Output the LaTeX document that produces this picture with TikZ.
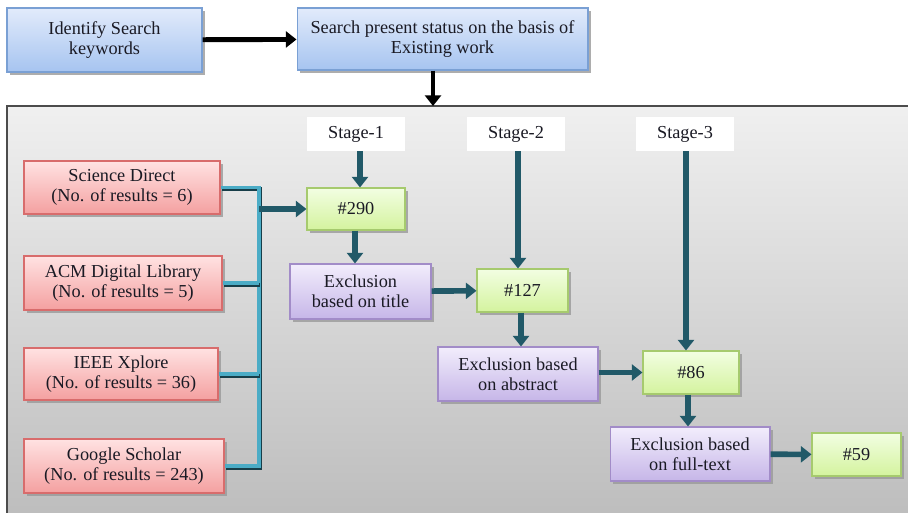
\documentclass[tikz,border=0pt]{standalone}
\usepackage{fontspec}
\setmainfont{Liberation Serif}
\usepackage{xcolor}
\usepackage{tikz}
\usetikzlibrary{arrows.meta, shadows, calc}
\definecolor{teal1}{HTML}{215968}
\definecolor{busc}{HTML}{4BACC6}
\definecolor{inkc}{HTML}{1A1A24}
\tikzstyle{base} = [rectangle, align=center, text=inkc, font=\fontsize{10.4}{11.6}\selectfont, inner sep=1pt, line width=0.6pt, drop shadow={shadow xshift=1.5pt, shadow yshift=-1.8pt, fill=black!40, opacity=0.8}]
\tikzstyle{bluebox} = [base, draw={rgb,255:red,122;green,160;blue,212}, top color={rgb,255:red,226;green,235;blue,251}, bottom color={rgb,255:red,166;green,196;blue,240}]
\tikzstyle{redbox} = [base, draw={rgb,255:red,216;green,108;blue,108}, top color={rgb,255:red,255;green,226;blue,226}, bottom color={rgb,255:red,244;green,160;blue,160}]
\tikzstyle{greenbox} = [base, draw={rgb,255:red,166;green,202;blue,110}, top color={rgb,255:red,242;green,254;blue,226}, bottom color={rgb,255:red,212;green,243;blue,158}]
\tikzstyle{purplebox} = [base, draw={rgb,255:red,162;green,140;blue,200}, top color={rgb,255:red,242;green,237;blue,252}, bottom color={rgb,255:red,198;green,182;blue,232}]
\tikzstyle{stagebox} = [rectangle, align=center, text=inkc, font=\fontsize{10.4}{11.6}\selectfont, fill=white]
\tikzstyle{arrow} = [line width=3.2pt, draw=teal1, -{Triangle[length=6pt, width=9pt]}]
\tikzstyle{blackarrow} = [line width=2.8pt, draw=black, -{Triangle[length=6pt, width=9pt]}]
\tikzstyle{bus} = [line width=2.2pt, draw=busc, preaction={draw=teal1!70!black, line width=2.2pt, transform canvas={xshift=0.7pt, yshift=-0.9pt}}]

\begin{document}
\begin{tikzpicture}[x=0.02cm, y=-0.02cm]
\useasboundingbox (0,0) rectangle (908,512);

% search steps
\node (key) [bluebox, minimum width=3.9cm, minimum height=1.28cm] at (104.5,40) {Identify Search\\keywords};
\node (status) [bluebox, minimum width=5.82cm, minimum height=1.24cm] at (442.5,39) {Search present status on the basis of\\Existing work};

% panel
\coordinate (paneltop) at (433,106);
\draw[draw=black!70, line width=1pt, top color=black!6, bottom color=black!26] (7,106) rectangle (915,520);

% stages
\node (s1) [stagebox, minimum width=1.96cm, minimum height=0.68cm] at (356,134) {Stage-1};
\node (s2) [stagebox, minimum width=1.96cm, minimum height=0.68cm] at (516,134) {Stage-2};
\node (s3) [stagebox, minimum width=1.96cm, minimum height=0.68cm] at (685,134) {Stage-3};

% libraries
\node (sd) [redbox, minimum width=3.92cm, minimum height=1.06cm] at (122,187.5) {Science Direct\\(No. of results = 6)};
\node (acm) [redbox, minimum width=3.96cm, minimum height=1.08cm] at (123,283) {ACM Digital Library\\(No. of results = 5)};
\node (ieee) [redbox, minimum width=3.88cm, minimum height=1.04cm] at (121,374) {IEEE Xplore\\(No. of results = 36)};
\node (gs) [redbox, minimum width=4.0cm, minimum height=1.08cm] at (124,466) {Google Scholar\\(No. of results = 243)};

% counts and exclusions
\node (n290) [greenbox, minimum width=1.96cm, minimum height=0.84cm] at (356,209) {\#290};
\node (exTitle) [purplebox, minimum width=2.82cm, minimum height=1.1cm] at (360.5,291.5) {Exclusion\\based on title};
\node (n127) [greenbox, minimum width=1.82cm, minimum height=0.86cm] at (522.5,290.5) {\#127};
\node (exAbs) [purplebox, minimum width=3.2cm, minimum height=1.08cm] at (518,374) {Exclusion based\\on abstract};
\node (n86) [greenbox, minimum width=1.92cm, minimum height=0.86cm] at (691,372.5) {\#86};
\node (exFull) [purplebox, minimum width=3.2cm, minimum height=1.08cm] at (690,454) {Exclusion based\\on full-text};
\node (n59) [greenbox, minimum width=1.78cm, minimum height=0.86cm] at (856.5,454.5) {\#59};

% bracket
\coordinate (busx) at (259,0);
\draw[bus] (sd.east) -| (busx |- gs.east) -- (gs.east);
\draw[bus] (acm.east) -- (acm.east -| busx);
\draw[bus] (ieee.east) -- (ieee.east -| busx);

% arrows
\draw [blackarrow] (key) -- (status);
\draw [blackarrow] (status.south -| paneltop) -- (paneltop);
\draw [arrow] (busx |- n290.west) -- (n290.west);
\draw [arrow] (s1.south -| 360,0) -- (n290.north -| 360,0);
\draw [arrow] (n290.south -| 355,0) -- (exTitle.north -| 355,0);
\draw [arrow] (exTitle) -- (n127);
\draw [arrow] (s2.south -| 518,0) -- (n127.north -| 518,0);
\draw [arrow] (n127.south -| 521,0) -- (exAbs.north -| 521,0);
\draw [arrow] (exAbs.east |- n86) -- (n86);
\draw [arrow] (s3.south -| 686,0) -- (n86.north -| 686,0);
\draw [arrow] (n86.south -| 688,0) -- (exFull.north -| 688,0);
\draw [arrow] (exFull) -- (n59);

\end{tikzpicture}
\end{document}
